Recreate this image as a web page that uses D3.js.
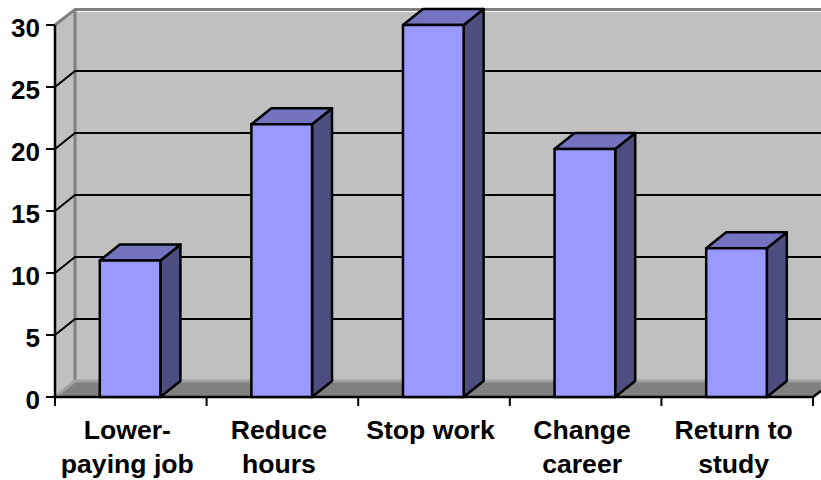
<!DOCTYPE html>
<html>
<head>
<meta charset="utf-8">
<script src="https://cdn.jsdelivr.net/npm/d3@7/dist/d3.min.js"></script>
<style>
  html, body { margin: 0; padding: 0; background: #fff; }
  svg { display: block; }
  text { font-family: "Liberation Sans", Arial, sans-serif; font-weight: 700; fill: #000; }
</style>
</head>
<body>
<svg id="chart" width="821" height="480"></svg>
<script>
const categories = [["Lower-", "paying job"], ["Reduce", "hours"], ["Stop work"], ["Change", "career"], ["Return to", "study"]];
const values = [11, 22, 30, 20, 12];
const yTicks = [0, 5, 10, 15, 20, 25, 30];

const W = 821, H = 480;
const left = 55, right = 813, base = 397, top30 = 25;
const depthX = 20, depthY = 16;

const svg = d3.select("#chart");
const x = d3.scaleBand().domain(d3.range(values.length)).range([left - 0.7, right - 0.7]).paddingInner(0.6).paddingOuter(0.3);
const y = d3.scaleLinear().domain([0, 30]).range([base, top30]);
const path = pts => "M" + pts.map(p => p.join(",")).join("L") + "Z";

// Back wall, side wall and floor of the 3D plot box
svg.append("rect").attr("x", left + depthX).attr("y", 12).attr("width", W - left - depthX).attr("height", base - depthY - 12).attr("fill", "#c0c0c0");
svg.append("path").attr("d", path([[left, top30], [left + depthX, 9], [left + depthX, base - depthY], [left, base]])).attr("fill", "#c0c0c0");
svg.append("path").attr("d", path([[left, base], [left + depthX, base - depthY], [W, base - depthY], [W, base - 6], [right, base]])).attr("fill", "#808080");

// Grey outline of the box
svg.append("path").attr("d", `M${left},${top30}L${left + depthX},9.5L${W},9.5`).attr("fill", "none").attr("stroke", "#808080").attr("stroke-width", 3);
svg.append("path").attr("d", `M${left + depthX},9.5V${base - depthY}`).attr("fill", "none").attr("stroke", "#808080").attr("stroke-width", 3);
svg.append("path").attr("d", `M${left},${base}L${left + depthX},${base - depthY}H${W}`).attr("fill", "none").attr("stroke", "#a0a0a0").attr("stroke-width", 3);

// Gridlines wrap from the side wall onto the back wall
svg.append("g").selectAll("path").data(yTicks.filter(t => t > 0 && t < 30)).join("path")
  .attr("d", t => `M${left},${y(t)}L${left + depthX},${y(t) - depthY}H${W}`)
  .attr("fill", "none").attr("stroke", "#000").attr("stroke-width", 2);

// Axes
svg.append("path").attr("d", `M${left},${top30}V${base}H${right}L${W},${base - 6}`).attr("fill", "none").attr("stroke", "#000").attr("stroke-width", 2.5);
svg.append("g").selectAll("line").data(yTicks).join("line")
  .attr("x1", left - 9).attr("x2", left).attr("y1", y).attr("y2", y).attr("stroke", "#000").attr("stroke-width", 2);
const step = x.step();
svg.append("g").selectAll("line").data(d3.range(values.length + 1)).join("line")
  .attr("x1", i => left + i * step).attr("x2", i => left + i * step)
  .attr("y1", base).attr("y2", base + 9).attr("stroke", "#000").attr("stroke-width", 2);

// Bars: front, top and side faces
const bars = svg.append("g").selectAll("g").data(values).join("g").attr("stroke", "#000").attr("stroke-width", 2.5).attr("stroke-linejoin", "round");
bars.append("path").attr("fill", "#4d4d80").attr("d", (d, i) => {
  const r = x(i) + x.bandwidth();
  return path([[r, y(d)], [r + depthX, y(d) - depthY], [r + depthX, base - depthY], [r, base]]);
});
bars.append("path").attr("fill", "#7373bf").attr("d", (d, i) => {
  const l = x(i), r = l + x.bandwidth();
  return path([[l, y(d)], [l + depthX, y(d) - depthY], [r + depthX, y(d) - depthY], [r, y(d)]]);
});
bars.append("rect").attr("fill", "#9999ff")
  .attr("x", (d, i) => x(i)).attr("y", d => y(d))
  .attr("width", x.bandwidth()).attr("height", d => base - y(d));

// Tick labels
svg.append("g").selectAll("text").data(yTicks).join("text")
  .attr("x", 40).attr("y", d => y(d) + 3).attr("dy", "0.36em").attr("text-anchor", "end").attr("font-size", 26).text(d => d);
const labels = svg.append("g").selectAll("text").data(categories).join("text")
  .attr("text-anchor", "middle").attr("font-size", 26.6);
labels.selectAll("tspan").data((d, i) => d.map(s => ({ s, i }))).join("tspan")
  .attr("x", d => x(d.i) + x.bandwidth() / 2 - 2.8)
  .attr("y", (d, k) => 439 + k * 34)
  .text(d => d.s);
</script>
</body>
</html>
